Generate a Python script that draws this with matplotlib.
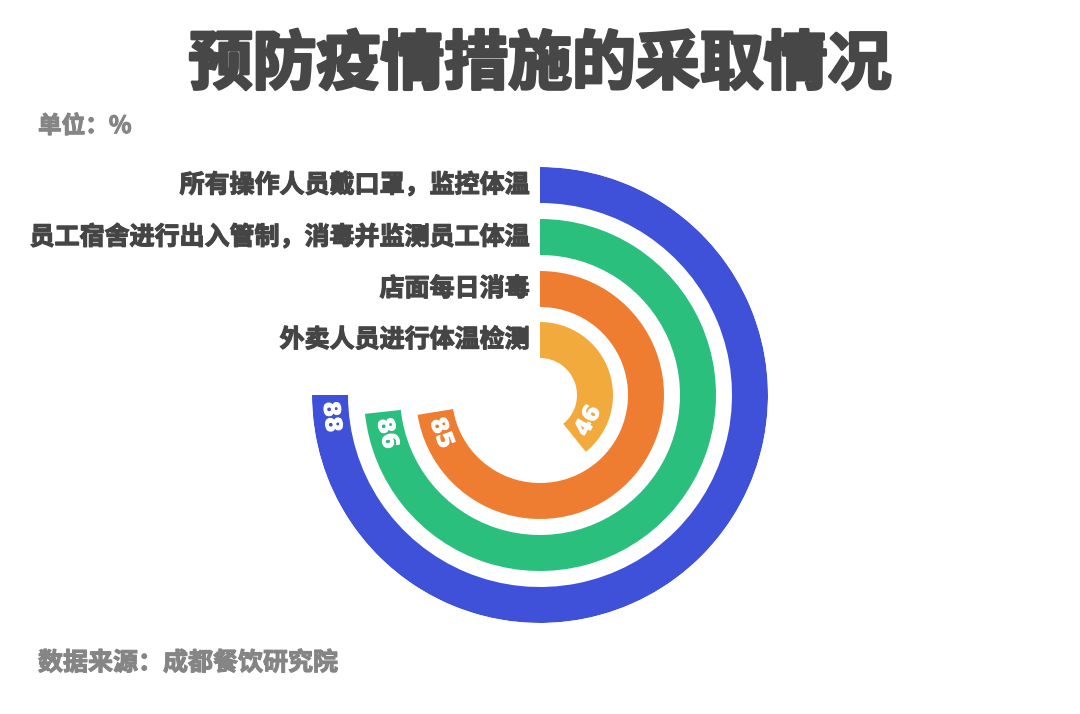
import numpy as np
import matplotlib
matplotlib.use("Agg")
import matplotlib.pyplot as plt
import matplotlib.patheffects as pe

plt.rcParams['font.family'] = ['Noto Sans CJK SC', 'DejaVu Sans']

# ---- data ----
title = "预防疫情措施的采取情况"
unit_text = "单位：%"
source_text = "数据来源：成都餐饮研究院"
categories = ["所有操作人员戴口罩，监控体温",
              "员工宿舍进行出入管制，消毒并监测员工体温",
              "店面每日消毒",
              "外卖人员进行体温检测"]
values = [88, 86, 85, 46]
colors = ["#3f51d8", "#2bbf7d", "#ef7d31", "#f2aa3d"]
value_max = 88 / 0.75   # value that would fill the whole circle

# ---- layout ----
W, H = 1080, 714
cx, cy, R = 540, 395, 228
ring_mid = [210, 158, 106, 55]
ring_w = 36

fig = plt.figure(figsize=(W / 100, H / 100), dpi=100)
fig.patch.set_facecolor("white")
ax = fig.add_axes([(cx - R) / W, (H - cy - R) / H, 2 * R / W, 2 * R / H],
                  projection="polar")
ax.set_theta_zero_location("N")
ax.set_theta_direction(-1)
ax.set_ylim(0, R)
ax.axis("off")

thetas = [v / value_max * 2 * np.pi for v in values]
ax.barh(ring_mid, thetas, height=ring_w, left=0, color=colors, linewidth=0)

def thick(c, w):
    return [pe.withStroke(linewidth=w, foreground=c)]

for cat, val, th, r in zip(categories, values, thetas, ring_mid):
    # category label left of the bar start
    ax.annotate(cat, xy=(0, r), xytext=(-7.5, 0), textcoords="offset points",
                ha="right", va="center", fontsize=18, fontweight="bold",
                color="#454545", annotation_clip=False,
                path_effects=thick("#454545", 0.9))
    # value label near the bar end
    t_lab = th - 22 / r
    rot = 180 - np.degrees(t_lab)
    ax.text(t_lab, r, str(val), ha="center", va="center", rotation=rot,
            rotation_mode="anchor", fontsize=16, fontweight="bold",
            color="white", family=["DejaVu Sans"],
            path_effects=thick("white", 0.8))

fig.text(0.5, 1 - 65 / H, title, ha="center", va="center", fontsize=46,
         fontweight="heavy", color="#474747",
         path_effects=thick("#474747", 2.2))
fig.text(38 / W, 1 - 126 / H, unit_text, ha="left", va="center", fontsize=17,
         fontweight="bold", color="#858585",
         path_effects=thick("#858585", 0.8))
fig.text(38 / W, 1 - 663 / H, source_text, ha="left", va="center", fontsize=18,
         fontweight="bold", color="#858585",
         path_effects=thick("#858585", 0.8))

fig.savefig("out.png", dpi=100, facecolor="white")
